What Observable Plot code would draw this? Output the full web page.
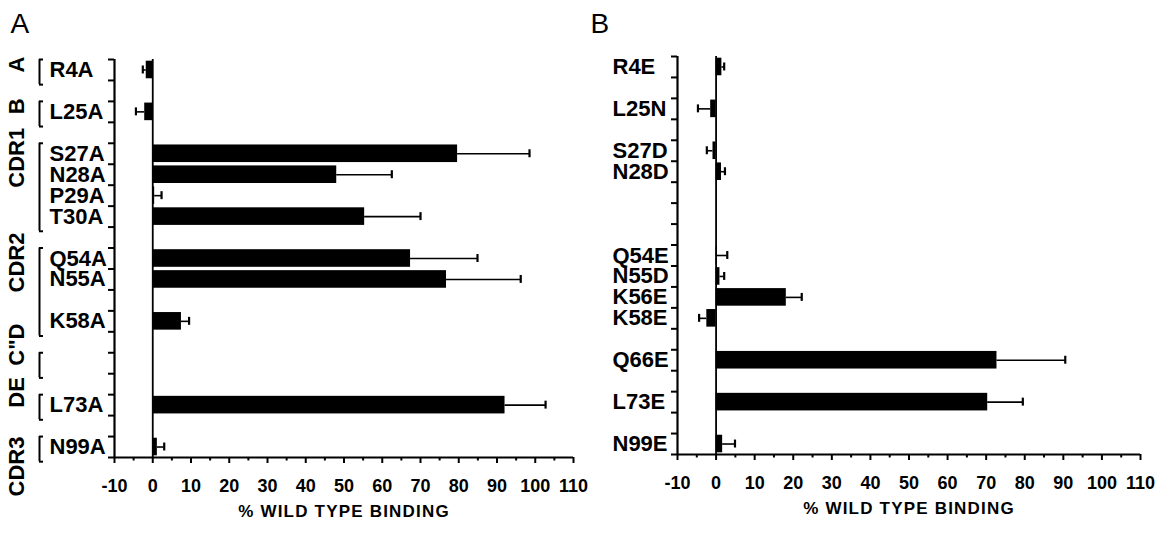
<!DOCTYPE html>
<html><head><meta charset="utf-8">
<script src="https://cdn.jsdelivr.net/npm/d3@7"></script>
<script src="https://cdn.jsdelivr.net/npm/@observablehq/plot@0.6"></script>
<style>
body{margin:0;background:#fff;}
#chart{display:flex;width:1159px;height:535px;overflow:hidden;}
svg{overflow:visible}
</style></head><body><div id="chart"></div>
<script>
// ---- Data ----
// Row categories (null = empty row)
const rowsA = ["R4A", null, "L25A", null, "S27A", "N28A", "P29A", "T30A", null, "Q54A", "N55A", null, "K58A", null, null, null, "L73A", null, "N99A"];
const valuesA = [-1.7, null, -2.1, null, 79.7, 48.1, 0.5, 55.4, null, 67.4, 76.8, null, 7.5, null, null, null, 92.1, null, 1.2];
const errorsA = [0.9, null, 2.3, null, 18.8, 14.4, 1.8, 14.6, null, 17.5, 19.4, null, 2.0, null, null, null, 10.6, null, 1.8];

const rowsB = ["R4E", null, "L25N", null, "S27D", "N28D", null, null, null, "Q54E", "N55D", "K56E", "K58E", null, "Q66E", null, "L73E", null, "N99E"];
const valuesB = [1.5, null, -1.4, null, -0.8, 1.4, null, null, null, 0.3, 1.0, 18.2, -2.4, null, 72.8, null, 70.4, null, 1.7];
const errorsB = [0.6, null, 3.3, null, 1.6, 0.9, null, null, null, 2.6, 1.1, 4.0, 2.0, null, 17.7, null, 9.1, null, 3.2];

// Structural groups of panel A (first / last row index)
const groupNames = ["A", "B", "CDR1", "CDR2", "C\"D", "DE", "CDR3"];
const groupFirst = [0, 2, 4, 9, 14, 16, 18];
const groupLast  = [0, 2, 7, 12, 14, 16, 18];

const xTicks = [-10, 0, 10, 20, 30, 40, 50, 60, 70, 80, 90, 100, 110];
const xMinorTicks = [-5, 5, 15, 25, 35, 45, 55, 65, 75, 85, 95, 105];
const axisTitle = "% WILD TYPE BINDING";

const FONT = "'Liberation Sans', Arial, Helvetica, sans-serif";

function panel({rows, values, errors, letter, width, marginLeft, marginRight, marginTop, marginBottom, groups}) {
  const n = rows.length;
  const data = rows.map((label, i) => ({label, slot: i, value: values[i], error: errors[i]}))
                   .filter(d => d.label !== null);
  const end = d => d.value + Math.sign(d.value || 1) * d.error;
  const yMin = -0.5, yMax = n - 0.5;
  const boundaries = d3.range(yMin, yMax + 0.01, 1);
  const marks = [
    // bars
    Plot.rect(data, {x1: 0, x2: "value", y1: d => d.slot - 0.42, y2: d => d.slot + 0.42, fill: "black"}),
    // error bars
    Plot.ruleY(data, {y: "slot", x1: "value", x2: end, strokeWidth: 1.6}),
    Plot.ruleX(data, {x: end, y1: d => d.slot - 0.19, y2: d => d.slot + 0.19, strokeWidth: 2.2}),
    // zero line
    Plot.ruleX([0], {strokeWidth: 1.8}),
    // left label axis line and its row-boundary ticks
    Plot.ruleX([xTicks[0]], {strokeWidth: 2.2}),
    Plot.ruleY(boundaries, {x1: xTicks[0], x2: xTicks[0], insetLeft: -6, strokeWidth: 2}),
    // bottom axis line and ticks
    Plot.ruleY([yMax], {strokeWidth: 2.2}),
    Plot.ruleX(xTicks, {y1: yMax, y2: yMax, insetBottom: -6, strokeWidth: 2}),
    Plot.ruleX(xMinorTicks, {y1: yMax, y2: yMax, insetBottom: -3.5, strokeWidth: 2}),
    // row labels
    Plot.text(data, {y: "slot", text: "label", frameAnchor: "left", dx: -65, textAnchor: "start",
                     fontSize: 22, fontWeight: "bold"}),
    // axis title
    Plot.text([axisTitle], {frameAnchor: "bottom", dy: 54.5, fontSize: 17, fontWeight: "bold",
                            lineAnchor: "middle"}),
    // panel letter
    Plot.text([letter], {frameAnchor: "top-left", dx: 10 - marginLeft, dy: 13 - marginTop,
                         textAnchor: "start", lineAnchor: "top", fontSize: 28, fontWeight: "normal"})
  ];
  if (groups) {
    const g = groups.names.map((name, i) => ({name, first: groups.first[i], last: groups.last[i]}));
    const main = g.slice(0, -1), lastG = g.slice(-1);
    marks.push(
      Plot.text(main, {y: d => (d.first + d.last) / 2, text: "name", rotate: -90, frameAnchor: "left",
                       dx: -97.5, dy: 2.5, fontSize: 22, fontWeight: "bold"}),
      Plot.text(lastG, {y: d => d.first - 0.5, text: "name", rotate: -90, frameAnchor: "left",
                        dx: -97.5, textAnchor: "end", fontSize: 22, fontWeight: "bold"}),
      // brackets
      Plot.ruleX(g, {x: xTicks[0], y1: d => d.first - 0.5, y2: d => d.last + 0.7, dx: -75, strokeWidth: 2}),
      Plot.ruleY(g, {y: d => d.first - 0.5, x1: xTicks[0], x2: xTicks[0], insetRight: -4, dx: -75, strokeWidth: 2}),
      Plot.ruleY(g, {y: d => d.last + 0.7, x1: xTicks[0], x2: xTicks[0], insetRight: -4, dx: -75, strokeWidth: 2})
    );
  }
  const svg = Plot.plot({
    width, height: 535, marginLeft, marginRight, marginTop, marginBottom,
    style: {fontFamily: FONT, fontSize: "18px", fontWeight: "bold", color: "black", background: "transparent", overflow: "visible"},
    x: {domain: [xTicks[0], xTicks[xTicks.length - 1]], ticks: xTicks, tickFormat: d => String(d),
        tickSize: 0, tickPadding: 22, label: null},
    y: {domain: [yMin, yMax], reverse: true, axis: null},
    marks
  });
  d3.select(svg).selectAll("text").filter(function() { return this.textContent === axisTitle; })
    .style("letter-spacing", "1.2px");
  return svg;
}

const chart = document.getElementById("chart");
chart.append(panel({rows: rowsA, values: valuesA, errors: errorsA, letter: "A",
  width: 580, marginLeft: 114, marginRight: 7, marginTop: 59, marginBottom: 78,
  groups: {names: groupNames, first: groupFirst, last: groupLast}}));
chart.append(panel({rows: rowsB, values: valuesB, errors: errorsB, letter: "B",
  width: 579, marginLeft: 97, marginRight: 19, marginTop: 56, marginBottom: 81}));
</script></body></html>
